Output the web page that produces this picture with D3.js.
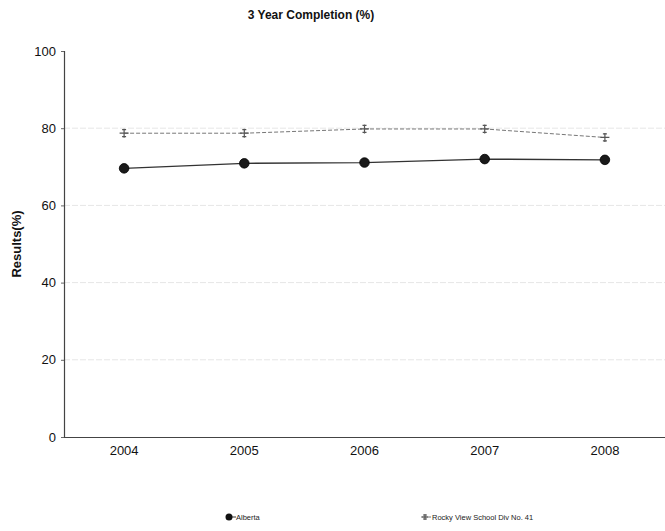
<!DOCTYPE html>
<html>
<head>
<meta charset="utf-8">
<script src="https://cdn.jsdelivr.net/npm/d3@7"></script>
<style>
  body { margin: 0; background: #fff; }
  svg { display: block; font-family: "Liberation Sans", Arial, sans-serif; }
</style>
</head>
<body>
<svg id="chart" width="665" height="531"></svg>
<script>
const years = ["2004", "2005", "2006", "2007", "2008"];
const alberta = [69.6, 70.9, 71.1, 72.0, 71.8];
const rockyView = [78.7, 78.7, 79.8, 79.8, 77.6];
const yTicks = [0, 20, 40, 60, 80, 100];
const seriesNames = ["Alberta", "Rocky View School Div No. 41"];

const svg = d3.select("#chart");
const margin = { left: 64, right: 0, top: 51, bottom: 94 };
const W = 665, H = 531;
const x = d3.scaleBand().domain(years).range([margin.left, W - margin.right]).padding(0);
const xc = d => x(d) + x.bandwidth() / 2;
const y = d3.scaleLinear().domain([0, 100]).range([H - margin.bottom, margin.top]);

// title
svg.append("text").attr("x", 311).attr("y", 19).attr("text-anchor", "middle")
  .attr("font-size", 12).attr("font-weight", "bold").attr("fill", "#111")
  .text("3 Year Completion (%)");

// gridlines
svg.append("g").selectAll("line").data(yTicks.filter(t => t > 0 && t < 100)).join("line")
  .attr("x1", margin.left).attr("x2", W).attr("y1", d => y(d)).attr("y2", d => y(d))
  .attr("stroke", "#e6e6e6").attr("stroke-width", 1).attr("stroke-dasharray", "6,2");

// y axis
const yAxis = d3.axisLeft(y).tickValues(yTicks).tickSize(3).tickPadding(5);
const gy = svg.append("g").attr("transform", `translate(${margin.left},0)`).call(yAxis);
gy.select(".domain").attr("stroke", "#444").attr("stroke-width", 1.2);
gy.selectAll(".tick line").attr("stroke", "#666");
gy.selectAll(".tick text").attr("font-size", 13).attr("fill", "#111");

// x axis
const xAxis = d3.axisBottom(x).tickSize(0).tickPadding(9);
const gx = svg.append("g").attr("transform", `translate(0,${y(0)})`).call(xAxis);
gx.select(".domain").attr("stroke", "#444").attr("stroke-width", 1.2);
gx.selectAll(".tick text").attr("font-size", 13).attr("fill", "#111");

// y label
svg.append("text").attr("transform", `translate(21,${(y(0)+y(100))/2}) rotate(-90)`)
  .attr("text-anchor", "middle").attr("font-size", 13).attr("font-weight", "bold").attr("fill", "#111")
  .text("Results(%)");

const line = d3.line().x((d, i) => xc(years[i])).y(d => y(d));

// Rocky View line
svg.append("path").datum(rockyView).attr("d", line).attr("fill", "none")
  .attr("stroke", "#777").attr("stroke-width", 1).attr("stroke-dasharray", "4,2");
// Alberta line
svg.append("path").datum(alberta).attr("d", line).attr("fill", "none")
  .attr("stroke", "#333").attr("stroke-width", 1.3);

function cross(g, cx, cy, s) {
  g.append("path")
    .attr("d", `M${cx - s},${cy}H${cx + s}M${cx},${cy - s}V${cy + s}M${cx-2},${cy-s+1}h4M${cx-2},${cy+s-1}h4`)
    .attr("stroke", "#555").attr("stroke-width", 1.2).attr("fill", "none");
}

const rg = svg.append("g");
rockyView.forEach((v, i) => cross(rg, xc(years[i]), y(v), 4.5));

svg.append("g").selectAll("circle").data(alberta).join("circle")
  .attr("cx", (d, i) => xc(years[i])).attr("cy", d => y(d)).attr("r", 4.8)
  .attr("fill", "#1a1a1a").attr("stroke", "#000").attr("stroke-width", 0.8);

// legend
const lg = svg.append("g");
lg.append("line").attr("x1", 226).attr("x2", 236).attr("y1", 517).attr("y2", 517).attr("stroke", "#333");
lg.append("circle").attr("cx", 229).attr("cy", 517).attr("r", 3.5).attr("fill", "#111");
lg.append("text").attr("x", 236).attr("y", 520).attr("font-size", 7.5).attr("fill", "#222").text(seriesNames[0]);
lg.append("line").attr("x1", 421).attr("x2", 431).attr("y1", 517).attr("y2", 517).attr("stroke", "#777");
cross(lg, 425, 517, 3);
lg.append("text").attr("x", 432).attr("y", 520).attr("font-size", 7.5).attr("fill", "#222").text(seriesNames[1]);
</script>
</body>
</html>
